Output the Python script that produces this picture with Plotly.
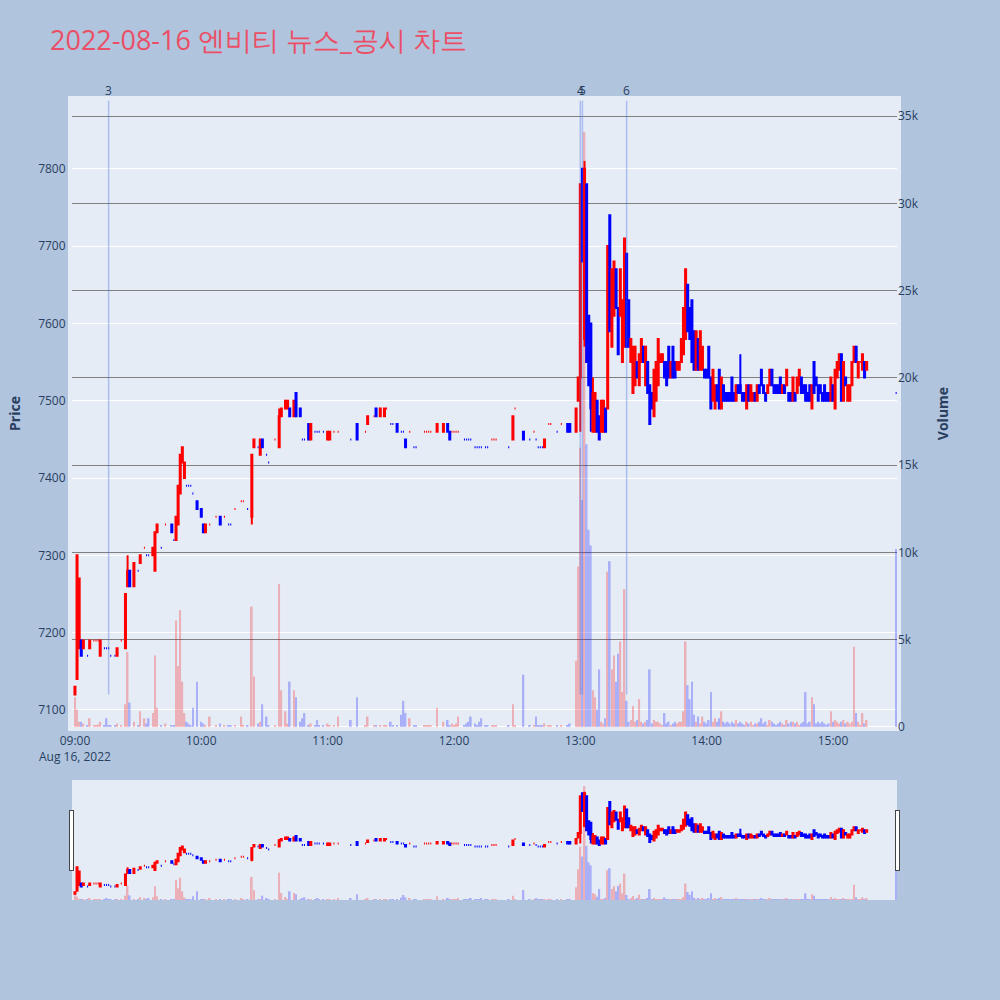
import pandas as pd
import plotly.graph_objects as go

TITLE = "2022-08-16 엔비티 뉴스_공시 차트"
SESSION_START = "2022-08-16 09:00"
X_RANGE = ["2022-08-16 08:58:36", "2022-08-16 15:30:24"]

# minute offsets from 09:00 (only minutes that traded)
minutes = (
    [0, 1, 2, 3, 4, 6, 7, 9, 10, 11,
     12, 14, 15, 16, 17, 19, 20, 22, 24, 25,
     26, 28, 30, 31, 33, 34, 35, 37, 38, 39,
     41, 43, 46, 47, 48, 49, 50, 51, 52, 53,
     54, 55, 56, 58, 60, 61, 62, 64, 67, 69,
     71, 73, 74, 76, 79, 80, 82, 84, 85, 87,
     88, 89, 91, 92, 95, 97, 98, 100, 101, 102,
     104, 105, 107, 108, 109, 111, 112, 114, 115, 116,
     118, 120, 121, 123, 125, 131, 134, 138, 139, 142,
     143, 145, 147, 148, 150, 151, 153, 155, 156, 157,
     159, 161, 162, 166, 167, 168, 169, 172, 175, 177,
     178, 179, 180, 181, 182, 185, 186, 187, 188, 190,
     191, 192, 193, 195, 196, 198, 199, 200, 206, 208,
     209, 213, 216, 218, 219, 220, 221, 222, 223, 225,
     226, 229, 231, 234, 235, 238, 239, 240, 241, 242]
    + list(range(243, 377))
    + [390]
)

opens = [
    7120, 7140, 7180, 7190, 7180, 7170, 7180, 7190, 7190, 7190,
    7170, 7180, 7180, 7180, 7170, 7170, 7170, 7190, 7180, 7260,
    7280, 7260, 7280, 7290, 7310, 7300, 7300, 7300, 7280, 7330,
    7310, 7340, 7340, 7320, 7320, 7340, 7380, 7420, 7400, 7390,
    7390, 7390, 7380, 7370, 7360, 7340, 7330, 7340, 7350, 7350,
    7350, 7340, 7340, 7360, 7370, 7370, 7360, 7350, 7440, 7440,
    7430, 7450, 7430, 7420, 7450, 7440, 7480, 7490, 7490, 7490,
    7480, 7510, 7490, 7450, 7450, 7470, 7450, 7460, 7460, 7460,
    7460, 7450, 7450, 7460, 7460, 7450, 7470, 7460, 7470, 7480,
    7490, 7480, 7480, 7490, 7470, 7470, 7470, 7460, 7460, 7450,
    7460, 7440, 7440, 7460, 7460, 7460, 7460, 7460, 7460, 7470,
    7460, 7460, 7460, 7460, 7460, 7450, 7450, 7450, 7450, 7440,
    7440, 7440, 7440, 7440, 7440, 7450, 7450, 7450, 7440, 7450,
    7490, 7460, 7450, 7460, 7450, 7440, 7440, 7440, 7440, 7470,
    7470, 7460, 7470, 7470, 7470, 7460, 7500, 7530, 7800, 7580,
    7780, 7610, 7600, 7460, 7460, 7500, 7480, 7460, 7460, 7490,
    7490, 7740, 7570, 7610, 7670, 7620, 7610, 7550, 7570, 7690,
    7630, 7550, 7510, 7520, 7550, 7520, 7550, 7570, 7520, 7550,
    7520, 7510, 7480, 7500, 7520, 7550, 7550, 7550, 7550, 7570,
    7530, 7570, 7550, 7540, 7540, 7550, 7560, 7580, 7650, 7620,
    7630, 7590, 7540, 7580, 7540, 7540, 7540, 7540, 7570, 7530,
    7500, 7490, 7520, 7540, 7490, 7520, 7510, 7510, 7510, 7530,
    7510, 7500, 7520, 7520, 7510, 7510, 7490, 7520, 7500, 7500,
    7510, 7500, 7520, 7540, 7520, 7510, 7510, 7520, 7540, 7520,
    7520, 7520, 7530, 7510, 7520, 7520, 7510, 7510, 7500, 7510,
    7510, 7520, 7530, 7520, 7520, 7510, 7520, 7490, 7550, 7530,
    7520, 7520, 7510, 7520, 7510, 7510, 7500, 7520, 7490, 7530,
    7540, 7560, 7500, 7530, 7500, 7500, 7520, 7550, 7570, 7530,
    7550, 7540, 7550, 7540, 7510,
]

highs = [
    7130, 7300, 7270, 7190, 7190, 7170, 7190, 7190, 7190, 7190,
    7190, 7180, 7180, 7180, 7170, 7170, 7180, 7190, 7250, 7300,
    7280, 7290, 7280, 7300, 7310, 7300, 7300, 7310, 7330, 7340,
    7310, 7340, 7340, 7320, 7350, 7390, 7430, 7440, 7420, 7390,
    7390, 7390, 7380, 7370, 7360, 7340, 7340, 7340, 7350, 7350,
    7350, 7340, 7340, 7360, 7370, 7370, 7360, 7430, 7450, 7440,
    7450, 7450, 7430, 7420, 7450, 7490, 7490, 7500, 7500, 7490,
    7500, 7510, 7490, 7450, 7450, 7470, 7470, 7460, 7460, 7460,
    7460, 7460, 7460, 7460, 7460, 7450, 7470, 7460, 7480, 7480,
    7490, 7490, 7490, 7490, 7470, 7470, 7470, 7460, 7460, 7450,
    7460, 7440, 7440, 7460, 7460, 7460, 7460, 7470, 7470, 7470,
    7460, 7460, 7460, 7460, 7460, 7450, 7450, 7450, 7450, 7440,
    7440, 7440, 7440, 7440, 7440, 7450, 7450, 7450, 7440, 7480,
    7490, 7460, 7450, 7460, 7450, 7440, 7440, 7440, 7450, 7470,
    7470, 7460, 7470, 7470, 7470, 7490, 7530, 7780, 7800, 7810,
    7780, 7610, 7600, 7530, 7510, 7500, 7480, 7500, 7500, 7490,
    7700, 7740, 7670, 7680, 7670, 7620, 7670, 7630, 7710, 7690,
    7630, 7580, 7570, 7570, 7550, 7560, 7580, 7570, 7570, 7550,
    7520, 7510, 7540, 7550, 7580, 7560, 7560, 7550, 7550, 7570,
    7550, 7570, 7550, 7550, 7550, 7580, 7620, 7670, 7650, 7620,
    7630, 7590, 7590, 7580, 7590, 7570, 7540, 7540, 7570, 7530,
    7540, 7520, 7520, 7540, 7530, 7520, 7510, 7510, 7510, 7530,
    7510, 7520, 7520, 7560, 7510, 7510, 7520, 7520, 7520, 7510,
    7510, 7520, 7520, 7540, 7520, 7510, 7520, 7540, 7540, 7520,
    7520, 7520, 7530, 7520, 7520, 7540, 7510, 7510, 7530, 7510,
    7530, 7540, 7530, 7520, 7520, 7510, 7520, 7520, 7550, 7530,
    7520, 7520, 7510, 7520, 7510, 7510, 7530, 7520, 7540, 7550,
    7560, 7560, 7550, 7530, 7520, 7520, 7550, 7570, 7570, 7550,
    7550, 7560, 7550, 7550, 7510,
]

lows = [
    7120, 7140, 7180, 7170, 7180, 7170, 7180, 7190, 7190, 7190,
    7170, 7180, 7180, 7180, 7170, 7170, 7170, 7190, 7180, 7260,
    7260, 7260, 7280, 7290, 7310, 7300, 7300, 7300, 7280, 7330,
    7310, 7340, 7330, 7320, 7320, 7340, 7380, 7420, 7400, 7390,
    7390, 7390, 7380, 7360, 7350, 7330, 7330, 7340, 7350, 7340,
    7350, 7340, 7340, 7360, 7370, 7370, 7360, 7340, 7440, 7440,
    7430, 7440, 7430, 7420, 7450, 7440, 7480, 7490, 7490, 7480,
    7480, 7480, 7480, 7450, 7450, 7450, 7450, 7460, 7460, 7460,
    7460, 7450, 7450, 7460, 7460, 7450, 7450, 7460, 7470, 7480,
    7480, 7480, 7480, 7490, 7470, 7470, 7460, 7460, 7460, 7440,
    7460, 7440, 7440, 7460, 7460, 7460, 7460, 7460, 7460, 7460,
    7450, 7460, 7460, 7460, 7460, 7450, 7450, 7450, 7450, 7440,
    7440, 7440, 7440, 7440, 7440, 7450, 7450, 7450, 7440, 7450,
    7490, 7450, 7450, 7460, 7450, 7440, 7440, 7440, 7440, 7470,
    7470, 7460, 7470, 7460, 7460, 7460, 7500, 7460, 7680, 7570,
    7550, 7520, 7460, 7460, 7460, 7460, 7450, 7460, 7460, 7460,
    7490, 7590, 7570, 7610, 7620, 7560, 7610, 7550, 7570, 7570,
    7570, 7550, 7510, 7520, 7530, 7520, 7550, 7550, 7520, 7510,
    7470, 7490, 7480, 7500, 7520, 7550, 7550, 7530, 7520, 7530,
    7530, 7530, 7530, 7540, 7540, 7550, 7560, 7580, 7590, 7580,
    7550, 7540, 7540, 7540, 7540, 7540, 7530, 7530, 7530, 7490,
    7500, 7490, 7500, 7490, 7490, 7500, 7500, 7500, 7500, 7500,
    7500, 7500, 7510, 7510, 7500, 7500, 7490, 7500, 7500, 7500,
    7500, 7500, 7510, 7520, 7510, 7500, 7510, 7520, 7520, 7510,
    7510, 7510, 7510, 7510, 7510, 7520, 7500, 7500, 7500, 7500,
    7510, 7520, 7510, 7510, 7500, 7500, 7500, 7490, 7510, 7520,
    7500, 7510, 7500, 7500, 7500, 7500, 7500, 7500, 7490, 7530,
    7540, 7500, 7500, 7520, 7500, 7500, 7520, 7550, 7550, 7530,
    7550, 7540, 7530, 7540, 7510,
]

closes = [
    7130, 7300, 7270, 7170, 7190, 7170, 7190, 7190, 7190, 7190,
    7190, 7180, 7180, 7180, 7170, 7170, 7180, 7190, 7250, 7280,
    7260, 7290, 7280, 7300, 7310, 7300, 7300, 7310, 7330, 7340,
    7310, 7340, 7330, 7320, 7350, 7390, 7430, 7440, 7420, 7390,
    7390, 7390, 7380, 7360, 7350, 7330, 7340, 7340, 7350, 7340,
    7350, 7340, 7340, 7360, 7370, 7370, 7360, 7430, 7450, 7440,
    7450, 7440, 7430, 7420, 7450, 7480, 7490, 7500, 7500, 7480,
    7500, 7480, 7480, 7450, 7450, 7450, 7470, 7460, 7460, 7460,
    7460, 7460, 7460, 7460, 7460, 7450, 7450, 7460, 7480, 7480,
    7480, 7490, 7490, 7490, 7470, 7470, 7460, 7460, 7460, 7440,
    7460, 7440, 7440, 7460, 7460, 7460, 7460, 7470, 7470, 7460,
    7450, 7460, 7460, 7460, 7460, 7450, 7450, 7450, 7450, 7440,
    7440, 7440, 7440, 7440, 7440, 7450, 7450, 7450, 7440, 7480,
    7490, 7450, 7450, 7460, 7450, 7440, 7440, 7440, 7450, 7470,
    7470, 7460, 7470, 7460, 7460, 7490, 7530, 7780, 7680, 7800,
    7550, 7520, 7490, 7510, 7510, 7460, 7450, 7500, 7500, 7460,
    7700, 7590, 7670, 7680, 7620, 7560, 7670, 7630, 7710, 7570,
    7570, 7580, 7570, 7570, 7530, 7560, 7580, 7550, 7570, 7510,
    7470, 7490, 7540, 7550, 7580, 7560, 7560, 7530, 7520, 7530,
    7550, 7530, 7530, 7550, 7550, 7580, 7620, 7670, 7590, 7580,
    7550, 7540, 7590, 7540, 7590, 7570, 7530, 7530, 7530, 7490,
    7540, 7520, 7500, 7490, 7530, 7500, 7500, 7500, 7500, 7500,
    7500, 7520, 7510, 7510, 7500, 7500, 7520, 7500, 7520, 7510,
    7500, 7520, 7510, 7520, 7510, 7500, 7520, 7540, 7520, 7510,
    7510, 7510, 7510, 7520, 7510, 7540, 7500, 7500, 7530, 7500,
    7530, 7540, 7510, 7510, 7500, 7500, 7500, 7520, 7510, 7520,
    7500, 7510, 7500, 7500, 7500, 7500, 7530, 7500, 7540, 7550,
    7560, 7500, 7550, 7520, 7520, 7520, 7550, 7570, 7550, 7550,
    7550, 7560, 7530, 7550, 7510,
]

volumes = [
    1700, 1000, 300, 300, 200, 100, 500, 100, 100, 150,
    300, 100, 500, 100, 100, 100, 200, 100, 1300, 4300,
    1400, 300, 100, 900, 500, 200, 500, 800, 4100, 1100,
    100, 200, 100, 100, 6100, 3500, 6700, 2600, 800, 300,
    200, 100, 1100, 2600, 300, 200, 100, 600, 100, 200,
    100, 100, 100, 100, 600, 100, 100, 6900, 2900, 200,
    300, 1300, 600, 100, 100, 8200, 2100, 900, 200, 2600,
    2100, 1700, 300, 500, 800, 100, 200, 100, 400, 100,
    100, 200, 100, 100, 600, 400, 1700, 100, 600, 100,
    100, 100, 100, 100, 300, 100, 100, 700, 1500, 800,
    500, 100, 100, 100, 100, 100, 100, 1100, 300, 400,
    100, 200, 100, 200, 600, 100, 200, 300, 600, 200,
    100, 300, 500, 100, 100, 100, 100, 100, 100, 1300,
    100, 3000, 100, 100, 600, 100, 100, 100, 200, 100,
    100, 100, 100, 100, 200, 3800, 9200, 16000, 13000, 34100,
    16200, 11300, 10400, 2100, 1700, 1000, 3300, 300, 200, 500,
    8900, 9500, 3300, 4100, 2600, 4200, 4900, 2000, 7900, 1500,
    300, 400, 1200, 300, 400, 1600, 300, 200, 300, 400,
    3300, 200, 400, 300, 300, 200, 100, 800, 200, 300,
    100, 200, 300, 200, 300, 300, 900, 4900, 2400, 1600,
    2600, 700, 300, 600, 200, 600, 300, 200, 400, 2000,
    300, 500, 300, 500, 900, 300, 200, 300, 200, 300,
    200, 400, 200, 300, 200, 100, 300, 200, 300, 100,
    200, 200, 300, 500, 200, 300, 100, 400, 300, 200,
    100, 200, 300, 200, 100, 400, 200, 300, 300, 200,
    300, 100, 200, 300, 2000, 200, 300, 1700, 1300, 200,
    300, 200, 300, 200, 100, 200, 900, 300, 400, 300,
    200, 300, 400, 200, 300, 200, 300, 4600, 800, 300,
    100, 800, 200, 400, 10200,
]

event_labels = ["3", "4", "5", "6"]
event_times = ["2022-08-16 09:16", "2022-08-16 13:00",
               "2022-08-16 13:01", "2022-08-16 13:22"]

assert len(minutes) == len(opens) == len(highs) == len(lows) == len(closes) == len(volumes)

times = pd.Timestamp(SESSION_START) + pd.to_timedelta(minutes, unit="min")

# candle direction (same rule as plotly: equal open/close compares to previous close)
directions = []
inc = True
prev_close = None
for o, c in zip(opens, closes):
    if c == o:
        if prev_close is not None and c != prev_close:
            inc = c > prev_close
    else:
        inc = c > o
    prev_close = c
    directions.append(inc)
vol_colors = ["red" if d else "blue" for d in directions]

BG = "#E5ECF6"
fig = go.Figure()
fig.add_trace(go.Candlestick(
    x=times, open=opens, high=highs, low=lows, close=closes, name="Price",
    increasing=dict(line=dict(color="red"), fillcolor="red"),
    decreasing=dict(line=dict(color="blue"), fillcolor="blue"),
    yaxis="y",
))
fig.add_trace(go.Bar(
    x=times, y=volumes, name="Volume", yaxis="y2",
    marker=dict(color=vol_colors, line=dict(width=0)), opacity=0.25,
))

line_bottom = min(lows)
line_top = max(highs) * 1.01
for lbl, t in zip(event_labels, event_times):
    fig.add_shape(type="line", xref="x", yref="y", x0=t, x1=t,
                  y0=line_bottom, y1=line_top,
                  line=dict(color="royalblue", width=1.5), opacity=0.35)
    fig.add_annotation(x=t, y=line_top, xref="x", yref="y", text=lbl,
                       showarrow=False, yanchor="bottom",
                       font=dict(size=12, color="#2a3f5f"))

fig.update_layout(
    width=1000, height=1000,
    title=dict(text=TITLE, font=dict(size=27, color="#EB4F66")),
    paper_bgcolor="lightsteelblue",
    plot_bgcolor=BG,
    showlegend=False,
    margin=dict(l=72, r=103, t=100, b=100),
    xaxis=dict(
        type="date",
        range=X_RANGE,
        rangeslider=dict(visible=True, bgcolor=BG, range=X_RANGE),
        showline=True, linecolor=BG, linewidth=4, mirror=True,
    ),
    yaxis=dict(
        title=dict(text="Price", font=dict(size=14, weight="bold")),
        range=[7078, 7889],
        showline=True, linecolor=BG, linewidth=4, mirror=True,
    ),
    yaxis2=dict(
        title=dict(text="Volume", font=dict(size=14, weight="bold"), standoff=20),
        overlaying="y", side="right",
        range=[0, 35930],
        showgrid=True, gridcolor="gray",
    ),
)

fig.write_html("out.html", config={"displayModeBar": False},
               post_script="document.body.style.margin='0px';")
